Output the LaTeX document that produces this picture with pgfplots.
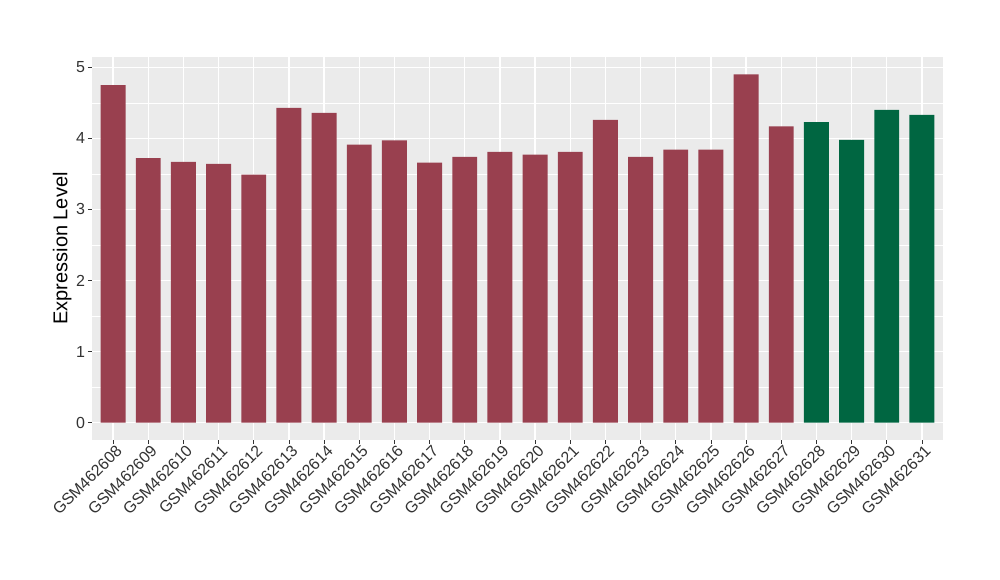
\documentclass[border=0pt]{standalone}
\usepackage{fontspec}
\setmainfont{Liberation Sans}
\usepackage{pgfplots}
\pgfplotsset{compat=1.18}
\definecolor{barred}{HTML}{99404F}
\definecolor{bargreen}{HTML}{006641}
\definecolor{panelbg}{HTML}{EBEBEB}
\definecolor{tickc}{HTML}{333333}
\begin{document}
\begin{tikzpicture}[x=0.75pt,y=0.75pt]
\path[use as bounding box,fill=white] (0,0) rectangle (1000,580);
\begin{axis}[
  at={(92*0.75pt,140*0.75pt)}, anchor=south west,
  scale only axis,
  width=851*0.75pt, height=383*0.75pt,
  xmin=-0.6, xmax=23.6,
  ymin=-0.245, ymax=5.145,
  axis background/.style={fill=panelbg},
  axis line style={draw=none},
  xtick={0,...,23},
  xticklabels={GSM462608,GSM462609,GSM462610,GSM462611,GSM462612,GSM462613,GSM462614,GSM462615,GSM462616,GSM462617,GSM462618,GSM462619,GSM462620,GSM462621,GSM462622,GSM462623,GSM462624,GSM462625,GSM462626,GSM462627,GSM462628,GSM462629,GSM462630,GSM462631},
  ytick={0,1,2,3,4,5},
  minor ytick={0.5,1.5,2.5,3.5,4.5},
  grid=both,
  major grid style={draw=white, line width=1pt},
  minor grid style={draw=white, line width=0.45pt},
  tick align=outside,
  tick pos=left,
  major tick length=3pt,
  minor tick length=0pt,
  tick style={draw=tickc, line width=0.6pt},
  /pgf/number format/assume math mode=true,
  ticklabel style={font=\fontsize{12}{14}\selectfont, text=tickc},
  xticklabel style={rotate=45, anchor=north east, inner sep=1pt, xshift=2pt},
  yticklabel style={inner sep=2pt},
  ylabel={Expression Level},
  ylabel style={font=\fontsize{15}{18}\selectfont, text=black},
  ylabel shift=-2pt,
  bar width=0.71,
  clip=false,
]
\addplot[ybar, bar shift=0pt, fill=barred, draw=none] coordinates {
(0,4.75) (1,3.72) (2,3.67) (3,3.64) (4,3.49) (5,4.43) (6,4.36) (7,3.91)
(8,3.97) (9,3.66) (10,3.74) (11,3.81) (12,3.77) (13,3.81) (14,4.26)
(15,3.74) (16,3.84) (17,3.84) (18,4.90) (19,4.17)
};
\addplot[ybar, bar shift=0pt, fill=bargreen, draw=none] coordinates {
(20,4.23) (21,3.98) (22,4.40) (23,4.33)
};
\end{axis}
\end{tikzpicture}
\end{document}
